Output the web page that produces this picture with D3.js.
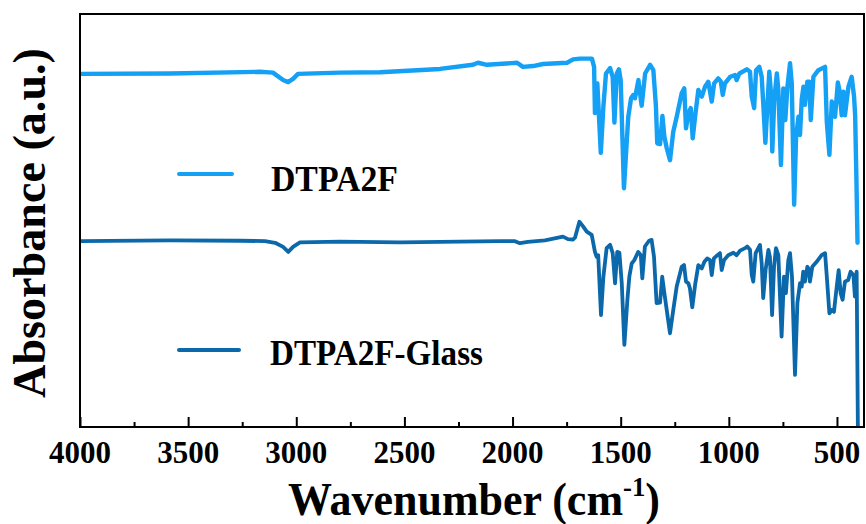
<!DOCTYPE html>
<html>
<head>
<meta charset="utf-8">
<script src="https://cdn.jsdelivr.net/npm/d3@7/dist/d3.min.js"></script>
<style>
  html, body { margin: 0; padding: 0; background: #fff; }
  svg { display: block; }
  .lbl { font-family: "Liberation Serif", "Times New Roman", serif; font-weight: bold; fill: #000; }
</style>
</head>
<body>
<svg id="chart" width="866" height="524"></svg>
<script>
// ---------------- DATA ----------------
const seriesNames = ["DTPA2F", "DTPA2F-Glass"];

const wnDTPA2F = [4000,3584,3168,3108,3061,3038,3015,2992,2798,2613,2335,2183,2160,2118,1979,1952,1905,1859,1748,1720,1688,1633,
  1623,1619,1608,1592,1580,1568,1549,1537,1529,1518,1508,1500,1485,1465,1452,1442,1434,1418,1403,1387,1364,1349,1337,1331,1318,1307,1298,1287,1272,1257,1241,1218,1206,1198,1187,1176,1167,1156,1141,1125,1110,1095,1079,1068,1049,1037,1028,1018,994,971,964,951,917,902,894,883,874,859,848,840,831,822,813,805,799,790,778,771,759,748,739,729,717,709,698,689,678,671,663,655,648,637,628,621,609,586,555,547,535,524,509,496,489,478,470,463,447,432,421,416,410,405];
const absDTPA2F = [85.5,85.6,86.0,85.8,84.0,83.5,84.3,85.5,85.8,85.9,86.7,87.7,88.2,87.7,88.2,87.2,87.4,87.9,88.2,89.0,89.2,89.2,
  87.2,76.0,83.2,66.4,77.6,85.6,86.9,84.8,73.7,85.6,86.6,84.0,57.8,75.1,79.6,80.4,79.6,84.0,77.8,85.6,87.7,86.4,77.6,68.7,68.5,75.3,70.3,67.5,64.6,71.5,75.1,80.8,82.0,72.3,76.0,77.2,69.9,75.1,81.6,80.0,82.4,83.6,78.8,83.2,84.4,83.6,80.4,83.2,84.8,85.2,84.0,85.6,86.6,86.0,80.0,77.2,86.4,87.2,84.8,77.6,68.8,77.6,86.0,80.8,66.7,79.2,85.6,81.6,63.4,82.0,74.3,82.4,88.1,83.2,53.8,70.3,75.1,70.7,79.2,82.4,78.0,83.6,83.6,74.3,84.8,86.4,87.2,73.9,65.9,78.8,75.1,83.4,81.6,75.5,81.2,75.5,82.4,84.8,80.0,75.5,59.8,44.6];

const wnGlass = [4000,3584,3260,3145,3098,3061,3037,3015,2983,2798,2520,2243,2058,1989,1966,1929,1850,1767,1744,1720,1711,1691,1673,1657,1634,
  1619,1611,1604,1591,1580,1565,1549,1537,1526,1516,1506,1495,1483,1469,1460,1449,1437,1419,1407,1400,1388,1369,1357,1346,1334,1318,1308,1298,1287,1272,1257,1241,1218,1207,1198,1187,1180,1169,1156,1141,1125,1113,1100,1087,1079,1069,1053,1041,1033,1022,1003,979,964,948,925,915,902,894,887,876,856,848,841,830,817,810,800,791,782,771,756,745,736,725,717,708,694,683,671,663,656,648,637,628,625,614,594,571,555,547,535,524,514,501,492,483,474,463,448,437,424,417,409,403];
const absGlass = [45.0,45.2,45.1,45.0,44.6,43.6,42.4,43.6,44.7,44.9,44.7,44.9,45.0,45.0,44.5,44.8,45.2,46.1,45.5,45.4,45.9,49.7,48.5,47.3,46.5,
  42.4,41.2,41.6,27.1,36.4,43.3,44.1,42.1,34.8,42.4,42.2,34.8,19.9,30.8,36.4,39.6,40.4,42.4,41.6,36.0,43.7,45.1,45.3,41.2,30.0,30.1,36.4,32.4,28.3,22.7,28.3,34.0,38.8,39.2,35.2,34.8,33.6,29.0,34.4,39.2,38.4,40.0,40.8,40.4,36.8,40.8,41.6,42.1,38.0,40.4,41.6,42.2,41.6,42.7,43.3,43.7,42.9,36.8,35.2,42.1,44.1,39.6,31.2,38.0,42.9,41.2,27.1,38.8,43.3,41.6,21.9,36.4,32.4,40.4,42.1,36.4,12.6,30.0,34.8,34.0,37.6,35.2,38.8,38.0,35.2,38.8,40.0,41.6,42.1,36.4,27.5,28.3,27.9,34.0,38.0,32.4,30.8,35.2,35.6,37.6,36.8,31.6,37.6,-2];

const xMajorTicks = [4000,3500,3000,2500,2000,1500,1000,500];
const xMinorTicks = [3750,3250,2750,2250,1750,1250,750];
const xTickLabels = ["4000","3500","3000","2500","2000","1500","1000","500"];
const xDomain = [4000, 375];
const yDomain = [0, 100];
const xTitle = "Wavenumber (cm";
const xTitleSup = "-1";
const yTitle = "Absorbance (a.u.)";
const colors = ["#14a0f5", "#0b69ab"];

// ---------------- LAYOUT ----------------
const L = 80, R = 864, T = 14, B = 427;
const svg = d3.select("#chart");
const x = d3.scaleLinear().domain(xDomain).range([L, R]);
const y = d3.scaleLinear().domain(yDomain).range([B, T]);

svg.append("defs").append("clipPath").attr("id", "plotclip")
  .append("rect").attr("x", L).attr("y", T).attr("width", R - L).attr("height", B - T);

// spectra
const series = [
  { name: seriesNames[0], wn: wnDTPA2F, ab: absDTPA2F, color: colors[0], w: 4.4 },
  { name: seriesNames[1], wn: wnGlass, ab: absGlass, color: colors[1], w: 3.8 }
];
const line = d3.line().x(d => x(d[0])).y(d => y(d[1])).curve(d3.curveLinear);
const g = svg.append("g").attr("clip-path", "url(#plotclip)");
series.forEach(s => {
  g.append("path")
    .datum(s.wn.map((w, i) => [w, s.ab[i]]))
    .attr("d", line)
    .attr("fill", "none")
    .attr("stroke", s.color)
    .attr("stroke-width", s.w)
    .attr("stroke-linejoin", "round")
    .attr("stroke-linecap", "round");
});

// axes (inward ticks), labels drawn separately
const axMaj = d3.axisBottom(x).tickValues(xMajorTicks).tickSizeInner(-10).tickSizeOuter(0).tickFormat(() => "");
const gMaj = svg.append("g").attr("transform", `translate(0,${B})`).call(axMaj);
gMaj.select(".domain").remove();
gMaj.selectAll(".tick text").remove();
gMaj.selectAll(".tick line").attr("stroke", "#000").attr("stroke-width", 2);

const axMin = d3.axisBottom(x).tickValues(xMinorTicks).tickSizeInner(-5).tickSizeOuter(0).tickFormat(() => "");
const gMin = svg.append("g").attr("transform", `translate(0,${B})`).call(axMin);
gMin.select(".domain").remove();
gMin.selectAll(".tick text").remove();
gMin.selectAll(".tick line").attr("stroke", "#000").attr("stroke-width", 2);

// helper: fit text width horizontally
function fitX(sel, target, ax, ay) {
  const w = sel.node().getBBox().width;
  const k = target / w;
  sel.attr("transform", `translate(${ax},${ay}) scale(${k},1) translate(${-ax},${-ay})`);
}

svg.append("g").selectAll("text").data(xMajorTicks).join("text")
  .attr("class", "lbl")
  .attr("x", d => x(d))
  .attr("y", 463)
  .attr("text-anchor", "middle")
  .style("font-size", "31px")
  .text((d, i) => xTickLabels[i])
  .each(function(d, i) {
    fitX(d3.select(this), 15.5 * xTickLabels[i].length, x(d), 463);
  });

// frame
svg.append("rect").attr("x", L).attr("y", T).attr("width", R - L).attr("height", B - T)
  .attr("fill", "none").attr("stroke", "#000").attr("stroke-width", 2);

// x title
const xt = svg.append("text").attr("class", "lbl").attr("x", 474).attr("y", 515).attr("text-anchor", "middle").style("font-size", "46px");
xt.append("tspan").text(xTitle);
xt.append("tspan").text(xTitleSup).style("font-size", "28px").attr("dy", -19);
xt.append("tspan").text(")").attr("dy", 19);
fitX(xt, 372, 474, 515);

// y title
const yt = svg.append("text").attr("class", "lbl").attr("text-anchor", "middle").style("font-size", "47px")
  .attr("transform", "translate(45,223) rotate(-90)").text(yTitle);
{
  const w = yt.node().getBBox().width;
  yt.attr("transform", `translate(45,223) rotate(-90) scale(${350 / w},1)`);
}

// legend
const legend = [
  { label: seriesNames[0], color: colors[0], x1: 179, x2: 232, ly: 174, tx: 271, ty: 191.5, tw: 127 },
  { label: seriesNames[1], color: colors[1], x1: 179, x2: 239, ly: 350, tx: 270, ty: 365.5, tw: 213 }
];
legend.forEach(l => {
  svg.append("line").attr("x1", l.x1).attr("x2", l.x2).attr("y1", l.ly).attr("y2", l.ly)
    .attr("stroke", l.color).attr("stroke-width", 4).attr("stroke-linecap", "round");
  const t = svg.append("text").attr("class", "lbl").attr("x", l.tx).attr("y", l.ty).style("font-size", "35px").text(l.label);
  fitX(t, l.tw, l.tx, l.ty);
});
</script>
</body>
</html>
